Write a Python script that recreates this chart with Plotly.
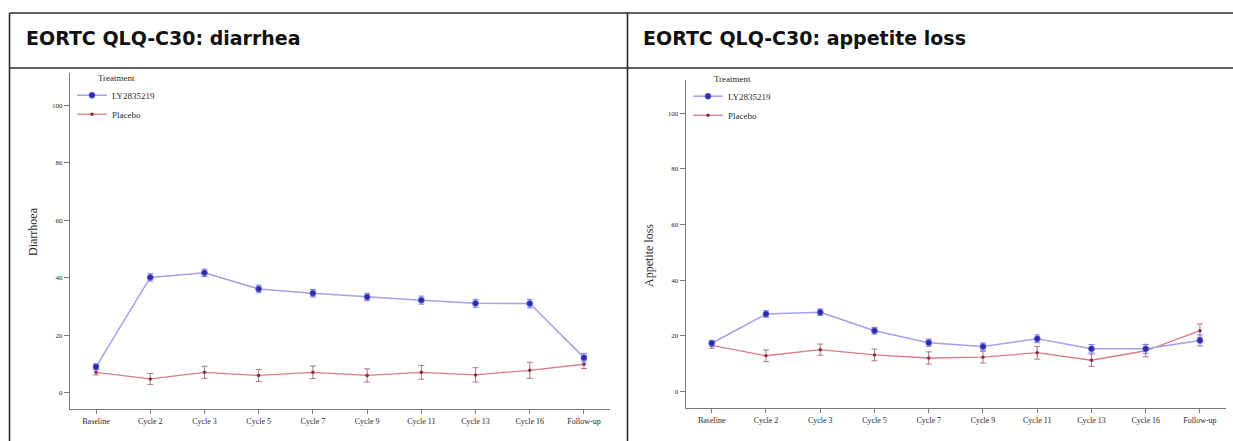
import plotly.graph_objects as go

# ---------------- data ----------------
visits = ["Baseline", "Cycle 2", "Cycle 3", "Cycle 5", "Cycle 7", "Cycle 9",
          "Cycle 11", "Cycle 13", "Cycle 16", "Follow-up"]

diarrhea_ly = [9.0, 40.1, 41.7, 36.1, 34.6, 33.3, 32.2, 31.1, 31.0, 12.2]
diarrhea_ly_err = [1.0, 1.3, 1.3, 1.3, 1.3, 1.3, 1.4, 1.4, 1.5, 1.5]
diarrhea_pbo = [7.1, 4.8, 7.1, 6.0, 7.1, 6.0, 7.1, 6.2, 7.8, 9.9]
diarrhea_pbo_err = [0.9, 1.9, 2.1, 2.1, 2.2, 2.3, 2.4, 2.5, 2.8, 1.5]

appetite_ly = [17.4, 27.9, 28.5, 21.9, 17.6, 16.2, 19.0, 15.4, 15.4, 18.4]
appetite_ly_err = [1.0, 1.2, 1.2, 1.2, 1.3, 1.3, 1.4, 1.5, 1.6, 2.0]
appetite_pbo = [16.6, 12.9, 15.1, 13.2, 12.1, 12.4, 14.0, 11.3, 14.7, 21.9]
appetite_pbo_err = [1.0, 2.1, 2.0, 2.1, 2.2, 2.1, 2.3, 2.2, 2.2, 2.4]

y_ticks = [0, 20, 40, 60, 80, 100]
series_names = ["LY2835219", "Placebo"]
panel_titles = ["EORTC QLQ-C30: diarrhea", "EORTC QLQ-C30: appetite loss"]
y_titles = ["Diarrhoea", "Appetite loss"]

# ---------------- styling ----------------
W, H = 1233, 441
SERIF = "Liberation Serif, Times New Roman, serif"
BLUE_LINE = "#a2a2e8"
BLUE_MARK = "#2c2caa"
BLUE_ERR = "#7e7ef0"
RED_LINE = "#dc7a8a"
RED_MARK = "#8a2f45"
RED_ERR = "#b07482"
AXIS_COL = "#7a7a7a"
TEXT_COL = "#2a2a2a"


def px_x(v):
    return v / W


def px_y(v):
    return 1 - v / H


fig = go.Figure()

panels = [
    ("x", "y", "legend", diarrhea_ly, diarrhea_ly_err, diarrhea_pbo, diarrhea_pbo_err),
    ("x2", "y2", "legend2", appetite_ly, appetite_ly_err, appetite_pbo, appetite_pbo_err),
]

for xa, ya, lg, ly, ly_err, pbo, pbo_err in panels:
    fig.add_trace(go.Scatter(
        x=visits, y=pbo, name=series_names[1], xaxis=xa, yaxis=ya, legend=lg,
        mode="lines+markers",
        line=dict(color=RED_LINE, width=1.3),
        marker=dict(color=RED_MARK, size=3.5, symbol="circle"),
        error_y=dict(type="data", array=pbo_err, color=RED_ERR, thickness=1, width=3),
        legendrank=2,
    ))
    fig.add_trace(go.Scatter(
        x=visits, y=ly, name=series_names[0], xaxis=xa, yaxis=ya, legend=lg,
        mode="lines+markers",
        line=dict(color=BLUE_LINE, width=1.5),
        marker=dict(color=BLUE_MARK, size=6, symbol="circle",
                    line=dict(color="#6a6ae0", width=0.8)),
        error_y=dict(type="data", array=ly_err, color=BLUE_ERR, thickness=1, width=3),
        legendrank=1,
    ))

xaxis_common = dict(
    type="category", range=[-0.48, 9.48], showline=True, linecolor=AXIS_COL,
    linewidth=1, ticks="outside", ticklen=4, tickcolor=AXIS_COL, tickwidth=1,
    showgrid=False, zeroline=False, fixedrange=True,
    tickfont=dict(family=SERIF, size=8, color=TEXT_COL),
)
yaxis_common = dict(
    tickvals=y_ticks, ticktext=[str(t) for t in y_ticks], showline=True,
    linecolor=AXIS_COL, linewidth=1, ticks="outside", ticklen=5,
    tickcolor=AXIS_COL, tickwidth=1, showgrid=False, zeroline=False,
    fixedrange=True, tickfont=dict(family=SERIF, size=7, color=TEXT_COL),
)

legend_common = dict(
    xanchor="left", yanchor="top", bgcolor="rgba(0,0,0,0)", borderwidth=0,
    font=dict(family=SERIF, size=9, color=TEXT_COL),
    title=dict(text="Treatment", side="top center",
               font=dict(family=SERIF, size=9, color=TEXT_COL)),
    tracegroupgap=0, itemwidth=30, itemsizing="trace",
)

fig.update_layout(
    width=W, height=H, margin=dict(l=0, r=0, t=0, b=0),
    paper_bgcolor="white", plot_bgcolor="white", showlegend=True,
    xaxis=dict(domain=[px_x(70), px_x(610)], anchor="y", **xaxis_common),
    yaxis=dict(domain=[px_y(409.3), px_y(73)], range=[-5.77, 111.2], anchor="x",
               **yaxis_common),
    xaxis2=dict(domain=[px_x(685.7), px_x(1226)], anchor="y2", **xaxis_common),
    yaxis2=dict(domain=[px_y(408.3), px_y(80)], range=[-5.96, 111.9], anchor="x2",
                **yaxis_common),
    legend=dict(x=px_x(72), y=px_y(69), **legend_common),
    legend2=dict(x=px_x(688), y=px_y(70), **legend_common),
)

# table frame around the two panels
frame = dict(type="line", xref="paper", yref="paper",
             line=dict(color="#2a2a2a", width=1.6), layer="above")
fig.add_shape(x0=px_x(9.5), x1=1, y0=px_y(13), y1=px_y(13), **frame)
fig.add_shape(x0=px_x(9.5), x1=1, y0=px_y(68), y1=px_y(68), **frame)
fig.add_shape(x0=px_x(9.5), x1=px_x(9.5), y0=px_y(13), y1=0, **frame)
fig.add_shape(x0=px_x(627.5), x1=px_x(627.5), y0=px_y(13), y1=0, **frame)

# panel titles
for txt, x0 in zip(panel_titles, [24, 641]):
    fig.add_annotation(
        text="<b>%s</b>" % txt, xref="paper", yref="paper",
        x=px_x(x0), y=px_y(38), xanchor="left", yanchor="middle",
        showarrow=False,
        font=dict(family="DejaVu Sans, Verdana, sans-serif", size=19, color="#111111"),
    )

# y-axis titles
for txt, xc, yc in zip(y_titles, [33, 649], [232, 255]):
    fig.add_annotation(
        text=txt, xref="paper", yref="paper", x=px_x(xc), y=px_y(yc),
        xanchor="center", yanchor="middle", textangle=-90, showarrow=False,
        font=dict(family=SERIF, size=12, color=TEXT_COL),
    )

fig.write_html("out.html", config={"displayModeBar": False})
